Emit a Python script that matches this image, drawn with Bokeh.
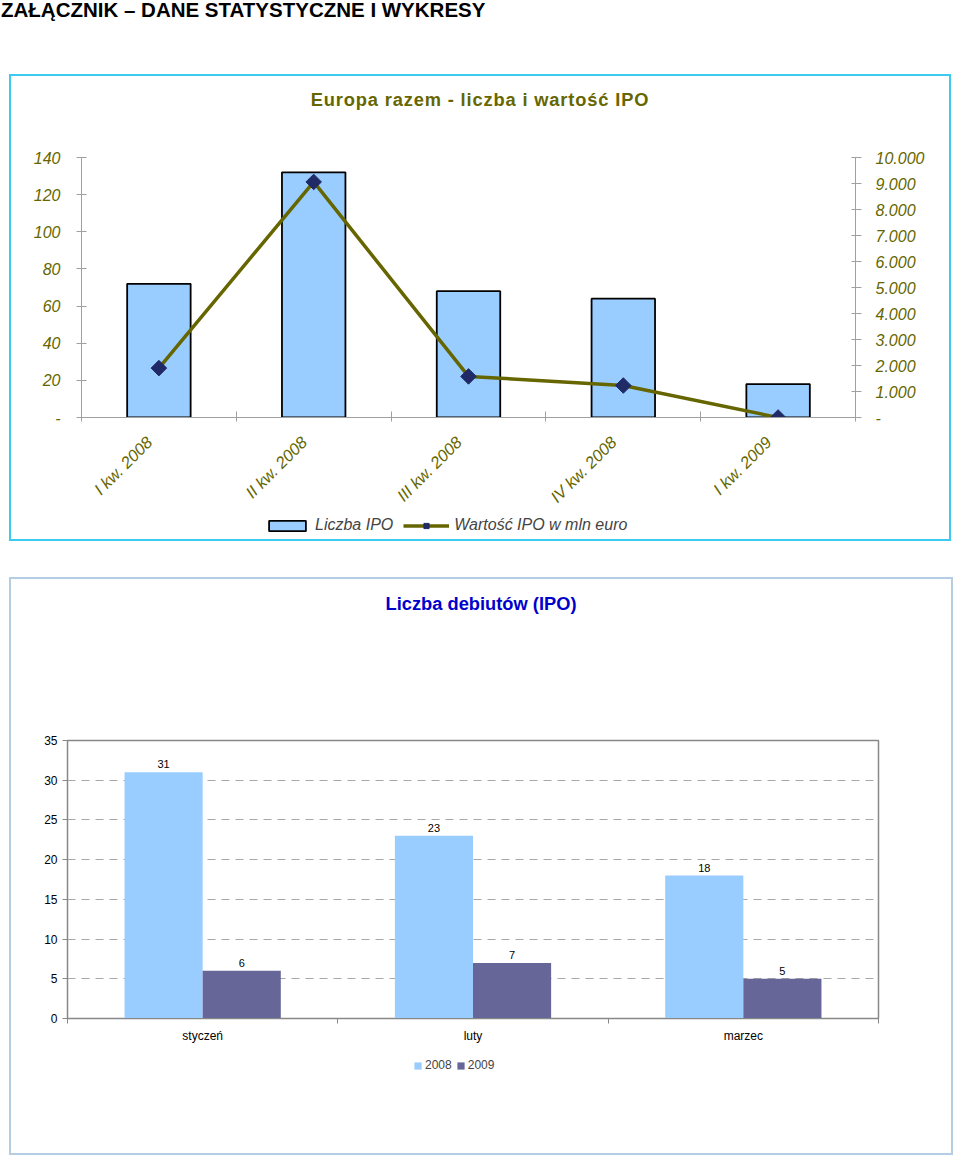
from math import pi
from bokeh.plotting import figure
from bokeh.models import (Range1d, LinearAxis, FixedTicker, CustomJSTickFormatter,
                          Legend, LegendItem, ColumnDataSource, Div)
from bokeh.layouts import column
from bokeh.core.properties import value
from bokeh.embed import file_html
from bokeh.resources import INLINE

# ---------------- data ----------------
quarters = ["I kw. 2008", "II kw. 2008", "III kw. 2008", "IV kw. 2008", "I kw. 2009"]
ipo_count = [72, 132, 68, 64, 18]            # Liczba IPO (left axis)
ipo_value = [1900, 9060, 1580, 1230, 0]      # Wartość IPO w mln euro (right axis)

months = ["styczeń", "luty", "marzec"]
debuts_2008 = [31, 23, 18]
debuts_2009 = [6, 7, 5]

left_ticks = [0, 20, 40, 60, 80, 100, 120, 140]
right_ticks = [0, 1000, 2000, 3000, 4000, 5000, 6000, 7000, 8000, 9000, 10000]
debut_ticks = [0, 5, 10, 15, 20, 25, 30, 35]

FONT = "Liberation Sans"
OLIVE = "#666600"
AX = "#A0A0A0"


def legend_fig(width, height):
    f = figure(width=width, height=height, x_range=Range1d(-2, -1), y_range=Range1d(0, 1),
               x_axis_location=None, y_axis_location=None, min_border=0,
               output_backend="svg", toolbar_location=None)
    f.grid.visible = False
    f.outline_line_color = None
    f.background_fill_alpha = 0
    f.border_fill_alpha = 0
    return f


def title_div(text, width, pad_top, color, size, spacing):
    return Div(text=f'<div style="width:{width}px;text-align:center;padding-top:{pad_top}px;'
                    f'font-family:\'Liberation Sans\',Arial,sans-serif;font-weight:bold;'
                    f'font-size:{size}px;letter-spacing:{spacing}px;line-height:20px;'
                    f'color:{color};white-space:nowrap;">{text}</div>',
               width=width, height=58, margin=(0, 0, 0, 0))


# ---------------- page title ----------------
page_title = Div(
    text='<div style="font-family:\'Liberation Sans\',Arial,sans-serif;font-weight:bold;'
         'font-size:20.5px;line-height:20px;color:#000;padding-left:1px;white-space:nowrap;">'
         'ZAŁĄCZNIK – DANE STATYSTYCZNE I WYKRESY</div>',
    width=944, height=74, margin=(0, 0, 0, 0))

# ---------------- chart 1 ----------------
x1 = [i + 0.5 for i in range(len(quarters))]
src1 = ColumnDataSource(dict(x=x1, count=ipo_count, val=ipo_value))

p1 = figure(width=938, height=381, x_range=Range1d(0, len(quarters)), y_range=Range1d(0, 140),
            output_backend="svg", toolbar_location=None,
            min_border_left=70, min_border_right=94, min_border_top=23, min_border_bottom=96,
            margin=(0, 0, 0, 0))
p1.extra_y_ranges = {"val": Range1d(0, 10000)}
p1.xgrid.visible = False
p1.ygrid.visible = False
p1.outline_line_color = None

bar_style = dict(fill_color="#99CCFF", line_color="#000000", line_width=1.8)
line_style = dict(line_color=OLIVE, line_width=3.5)
mark_style = dict(marker="square", angle=pi / 4, size=11, fill_color="#1F2A66", line_color="#1F2A66")

p1.vbar(x="x", top="count", width=0.41, source=src1, **bar_style)
p1.line(x="x", y="val", y_range_name="val", source=src1, **line_style)
p1.scatter(x="x", y="val", y_range_name="val", source=src1, **mark_style)

ya = p1.yaxis[0]
ya.ticker = FixedTicker(ticks=left_ticks)
ya.formatter = CustomJSTickFormatter(code="return tick == 0 ? '-' : String(tick);")
ya.major_tick_in = 5
ya.major_tick_out = 5
ya.minor_tick_line_color = None
ya.major_label_standoff = 16
ya.axis_line_color = AX
ya.major_tick_line_color = AX
ya.major_label_text_font = FONT
ya.major_label_text_font_style = "italic"
ya.major_label_text_font_size = "16px"
ya.major_label_text_color = OLIVE

ra = LinearAxis(y_range_name="val", ticker=FixedTicker(ticks=right_ticks),
                formatter=CustomJSTickFormatter(code="return tick == 0 ? '-' : (tick/1000) + '.000';"))
ra.major_tick_in = 4
ra.major_tick_out = 6
ra.minor_tick_line_color = None
ra.major_label_standoff = 14
ra.axis_line_color = AX
ra.major_tick_line_color = AX
ra.major_label_text_font = FONT
ra.major_label_text_font_style = "italic"
ra.major_label_text_font_size = "16px"
ra.major_label_text_color = OLIVE
p1.add_layout(ra, "right")

xa = p1.xaxis[0]
xa.ticker = FixedTicker(ticks=x1, minor_ticks=list(range(len(quarters) + 1)))
xa.formatter = CustomJSTickFormatter(args=dict(labels=quarters),
                                     code="const i = Math.floor(tick); return (labels[i] ?? '') + '\\u00a0\\u00a0\\u00a0';")
xa.major_tick_in = 0
xa.major_tick_out = 0
xa.minor_tick_in = 6
xa.minor_tick_out = 4
xa.minor_tick_line_color = AX
xa.axis_line_color = AX
xa.major_label_orientation = pi / 4
xa.major_label_standoff = 8
xa.major_label_text_font = FONT
xa.major_label_text_font_style = "italic"
xa.major_label_text_font_size = "16.5px"
xa.major_label_text_color = OLIVE

# legend strip for chart 1 (hidden proxy renderers sharing the chart's data and styles)
lf1 = legend_fig(938, 24)
lb = lf1.vbar(x="x", top="count", width=0.41, source=src1, visible=False, **bar_style)
ll = lf1.line(x="x", y="val", source=src1, visible=False, **line_style)
lm = lf1.scatter(x="x", y="val", source=src1, visible=False, **mark_style)
leg1 = Legend(items=[LegendItem(label="Liczba IPO", renderers=[lb]),
                     LegendItem(label="Wartość IPO w mln euro", renderers=[ll, lm])],
              orientation="horizontal", location=(183, 4), glyph_width=46, glyph_height=13,
              label_text_font=FONT, label_text_font_style="italic", label_text_font_size="16px",
              label_height=20, padding=0, margin=0, spacing=10, label_standoff=5,
              border_line_color=None, background_fill_alpha=0)
lf1.add_layout(leg1, "center")

box1 = column(title_div("Europa razem - liczba i wartość IPO", 938, 14, OLIVE, 18.3, 0.85), p1, lf1,
              margin=(2, 0, 0, 11),
              styles={"outline": "2px solid #3ccbee"})

# ---------------- chart 2 ----------------
x2 = [i + 0.5 for i in range(len(months))]
src2 = ColumnDataSource(dict(
    x08=[x - 0.1445 for x in x2], x09=[x + 0.1445 for x in x2],
    d08=debuts_2008, d09=debuts_2009,
    t08=[str(v) for v in debuts_2008], t09=[str(v) for v in debuts_2009]))

p2 = figure(width=940, height=411, x_range=Range1d(0, len(months)), y_range=Range1d(0, 35),
            output_backend="svg", toolbar_location=None,
            min_border_left=56, min_border_right=73, min_border_top=103, min_border_bottom=30,
            margin=(0, 0, 0, 0))
p2.xgrid.visible = False
p2.ygrid.ticker = FixedTicker(ticks=[5, 10, 15, 20, 25, 30])
p2.ygrid.grid_line_color = "#A8A8A8"
p2.ygrid.grid_line_dash = "8 6"
p2.outline_line_color = "#888888"
p2.outline_line_width = 1.5

s08 = dict(fill_color="#99CCFF", line_color=None)
s09 = dict(fill_color="#666699", line_color=None)
p2.vbar(x="x08", top="d08", width=0.289, source=src2, **s08)
p2.vbar(x="x09", top="d09", width=0.289, source=src2, **s09)
p2.text(x="x08", y="d08", text="t08", source=src2, text_align="center", text_baseline="bottom",
        y_offset=-4, text_font=value(FONT), text_font_size=value("11px"), text_color="#000000")
p2.text(x="x09", y="d09", text="t09", source=src2, text_align="center", text_baseline="bottom",
        y_offset=-4, text_font=value(FONT), text_font_size=value("11px"), text_color="#000000")

ya2 = p2.yaxis[0]
ya2.ticker = FixedTicker(ticks=debut_ticks)
ya2.major_tick_in = 0
ya2.major_tick_out = 5
ya2.minor_tick_line_color = None
ya2.major_label_standoff = 5
ya2.axis_line_color = "#888888"
ya2.major_tick_line_color = "#888888"
ya2.major_label_text_font = FONT
ya2.major_label_text_font_size = "12px"
ya2.major_label_text_color = "#000000"

xa2 = p2.xaxis[0]
xa2.ticker = FixedTicker(ticks=x2, minor_ticks=list(range(len(months) + 1)))
xa2.formatter = CustomJSTickFormatter(args=dict(labels=months),
                                      code="const i = Math.floor(tick); return labels[i] ?? '';")
xa2.major_tick_in = 0
xa2.major_tick_out = 0
xa2.minor_tick_in = 0
xa2.minor_tick_out = 5
xa2.minor_tick_line_color = "#888888"
xa2.axis_line_color = "#888888"
xa2.major_label_standoff = 5
xa2.major_label_text_font = FONT
xa2.major_label_text_font_size = "12px"
xa2.major_label_text_color = "#000000"

lf2 = legend_fig(940, 105)
lb08 = lf2.vbar(x="x08", top="d08", width=0.289, source=src2, visible=False, **s08)
lb09 = lf2.vbar(x="x09", top="d09", width=0.289, source=src2, visible=False, **s09)
leg2 = Legend(items=[LegendItem(label="2008", renderers=[lb08]),
                     LegendItem(label="2009", renderers=[lb09])],
              orientation="horizontal", location=(346, 81), glyph_width=9, glyph_height=9,
              label_text_font=FONT, label_text_font_size="12px", label_height=14,
              padding=0, margin=0, spacing=4, label_standoff=3,
              border_line_color=None, background_fill_alpha=0)
lf2.add_layout(leg2, "center")

box2 = column(title_div("Liczba debiutów (IPO)", 940, 15, "#0000CC", 18.3, 0), p2, lf2,
              margin=(40, 0, 0, 11),
              styles={"outline": "2px solid #b4cde3"})

layout = column(page_title, box1, box2)
open("out.html", "w").write(file_html(layout, INLINE))
